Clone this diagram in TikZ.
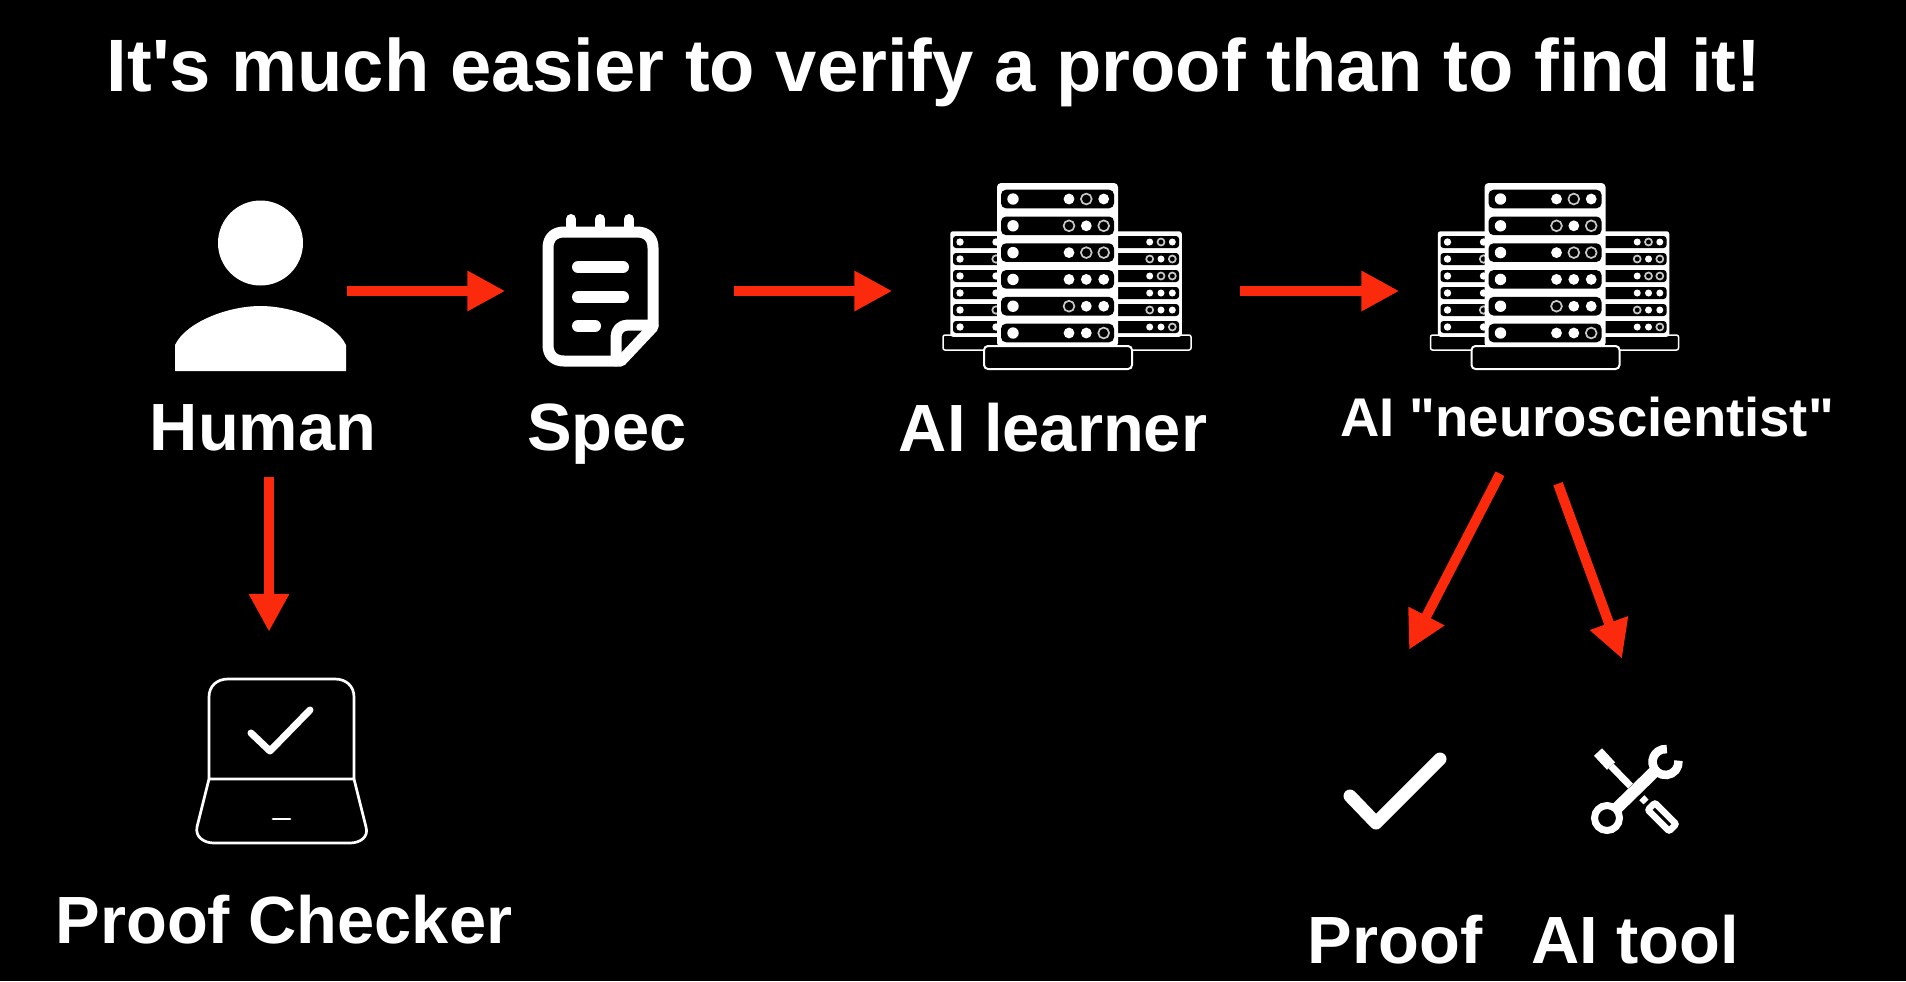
\documentclass[tikz,border=0pt]{standalone}
\usepackage{fontspec}
\usetikzlibrary{arrows.meta}
\newfontfamily\slidefont{Liberation Sans}
\definecolor{flowred}{HTML}{FB2A0C}
\definecolor{ledring}{HTML}{C8C8C8}
\tikzset{
  flow/.style={draw=flowred, line width=0.1cm, -{Triangle[length=0.38cm, width=0.38cm]}},
  spot/.style 2 args={inner sep=0pt, minimum width=#1*0.01cm, minimum height=#2*0.01cm},
  heading/.style={inner sep=0pt, text=white, font=\slidefont\bfseries\fontsize{21.1}{25}\selectfont},
  caption/.style={inner sep=0pt, text=white, font=\slidefont\bfseries\fontsize{19}{23}\selectfont},
  icon/.style={draw=white, line width=0.11cm, line cap=round, line join=round},
  thinicon/.style={draw=white, line width=0.027cm, line cap=round, line join=round},
  led1/.style={fill=white},
  led0/.style={draw=ledring, line width=0.017cm},
  pics/server/.style={code={
    % ---- side rack ----
    \draw[white, line width=0.015cm, rounded corners=0.02cm, fill=black] (-114.5,44) rectangle (133.5,59);
    \draw[white, line width=0.015cm, rounded corners=0.02cm, fill=white] (-106.5,-59) rectangle (123.5,45);
    \foreach \rowy/\ledA/\ledB/\ledC in {-49/1/0/1, -32/0/1/0, -15/1/0/0, 2/1/1/1, 19/0/1/1, 36/1/1/0} {
      \fill[black, rounded corners=0.03cm] (-104.5,\rowy-6) rectangle (121.5,\rowy+6);
      \path[style=led1] (-97.5,\rowy) circle[radius=3.7];
      \path[style=led\ledA] (-61.5,\rowy) circle[radius=3.7];
      \path[style=led\ledA] (92.2,\rowy) circle[radius=3.5];
      \path[style=led\ledB] (103.5,\rowy) circle[radius=3.5];
      \path[style=led\ledC] (114.8,\rowy) circle[radius=3.5];
    }
    % ---- front rack ----
    \fill[white, rounded corners=0.04cm] (-60.5,-108) rectangle (60.5,56);
    \foreach \rowy/\ledA/\ledB/\ledC in {-92/1/0/1, -65.2/0/1/0, -38.4/1/0/0, -11.6/1/1/1, 15.2/0/1/1, 42/1/1/0} {
      \fill[black, rounded corners=0.05cm] (-56.5,\rowy-9.3) rectangle (56.5,\rowy+9.3);
      \path[style=led1] (-44.5,\rowy) circle[radius=5.7];
      \path[style=led\ledA] (11.5,\rowy) circle[radius=5.4];
      \path[style=led\ledB] (28.8,\rowy) circle[radius=5.4];
      \path[style=led\ledC] (46.2,\rowy) circle[radius=5.4];
    }
    \draw[white, line width=0.02cm, rounded corners=0.04cm, fill=black] (-73.5,55) rectangle (74.5,78);
  }},
}
\begin{document}
\begin{tikzpicture}[x=0.01cm, y=-0.01cm]
  \path[fill=black, use as bounding box] (0,0) rectangle (1906,981);

  \node[heading] (title) at (934,72) {It's much easier to verify a proof than to find it!};

  % ---- Places the arrows run between ----
  \node[spot={166}{100}] (human) at (263,291) {};
  \node[spot={227}{100}] (spec) at (619.5,291) {};
  \node[spot={346}{100}] (learner) at (1066,291) {};
  \node[spot={290}{100}] (neuro) at (1545,291) {};

  % ---- Labels ----
  \node[caption] (humanlabel) at (263,428) {Human};
  \node[caption] (speclabel) at (607,434) {Spec};
  \node[caption] (learnerlabel) at (1053,428) {AI learner};
  \node[caption, font=\slidefont\bfseries\fontsize{15.5}{18}\selectfont] (neurolabel) at (1587,417) {AI "neuroscientist"};
  \node[caption] (checkerlabel) at (284,920) {Proof Checker};
  \node[caption] (prooflabel) at (1395,940) {Proof};
  \node[caption] (toollabel) at (1635,940) {AI tool};

  % ---- Person ----
  \fill[white] (260.5,243) circle[radius=42.5];
  \fill[white] (175,371) -- (175,345) .. controls (186,322) and (228,306) .. (260.5,306)
    .. controls (293,306) and (335,322) .. (346,345) -- (346,371) -- cycle;

  % ---- Notepad ----
  \draw[icon] (621,361) -- (564,361) .. controls (554,361) and (548,355) .. (548,345)
    -- (548,248) .. controls (548,238) and (554,232) .. (564,232) -- (637,232)
    .. controls (647,232) and (653,238) .. (653,248) -- (653,327) -- (621,361) -- cycle;
  \draw[icon] (653,325) -- (628,325) .. controls (621,325) and (616,330) .. (616,337) -- (616,361);
  \foreach \ringx in {571,600,629} {
    \draw[icon, line width=0.1cm] (\ringx,227) -- (\ringx,219);
  }
  \draw[icon, line width=0.12cm] (578,267) -- (623,267);
  \draw[icon, line width=0.12cm] (578,297) -- (623,297);
  \draw[icon, line width=0.12cm] (578,326) -- (595,326);

  % ---- Racks ----
  \pic at (1057.5,291) {server};
  \pic at (1545,291) {server};

  % ---- Laptop ----
  \draw[thinicon] (209,779) -- (209,697) .. controls (209,686) and (217,679) .. (228,679)
    -- (335,679) .. controls (346,679) and (354,686) .. (354,697) -- (354,779) -- cycle;
  \draw[thinicon] (209,779) -- (197,827) .. controls (195,837) and (204,843) .. (214,843)
    -- (350,843) .. controls (360,843) and (369,837) .. (366,827) -- (354,779);
  \draw[thinicon] (273,819) -- (290,819);
  \draw[icon, line width=0.07cm] (251,733) -- (270,751) -- (310,710);

  % ---- Tick ----
  \draw[icon, line width=0.13cm] (1350,796) -- (1376,823) -- (1440,759);

  % ---- Wrench and screwdriver ----
  \draw[white, line width=0.11cm] (1598,752) -- (1611,766);
  \draw[white, line width=0.07cm] (1611,766) -- (1646,802);
  \draw[white, line width=0.065cm, rounded corners=0.02cm, fill=black, rotate around={-45:(1662,817)}]
    (1647,812) rectangle (1677,822);
  \draw[black, line width=0.16cm] (1620,808) -- (1654,774);
  \draw[white, line width=0.07cm] (1607,818) circle[radius=12.5];
  \draw[white, line width=0.12cm] (1616,809) -- (1655,771);
  \draw[white, line width=0.085cm] ([shift={(-6:13)}]1665.5,762) arc[start angle=-6, end angle=276, radius=13];

  % ---- Arrows ----
  \draw[flow] (human.east) -- (spec.west);
  \draw[flow] (spec.east) -- (learner.west);
  \draw[flow] (learner.east) -- (neuro.west);
  \draw[flow] ([shift={(6,25)}]humanlabel.south) -- ([shift={(-15,-263)}]checkerlabel.north);
  \draw[flow] ([shift={(-87,36)}]neurolabel.south) -- ([shift={(14,-265)}]prooflabel.north);
  \draw[flow] ([shift={(-29,46)}]neurolabel.south) -- ([shift={(-13,-256)}]toollabel.north);
\end{tikzpicture}
\end{document}
